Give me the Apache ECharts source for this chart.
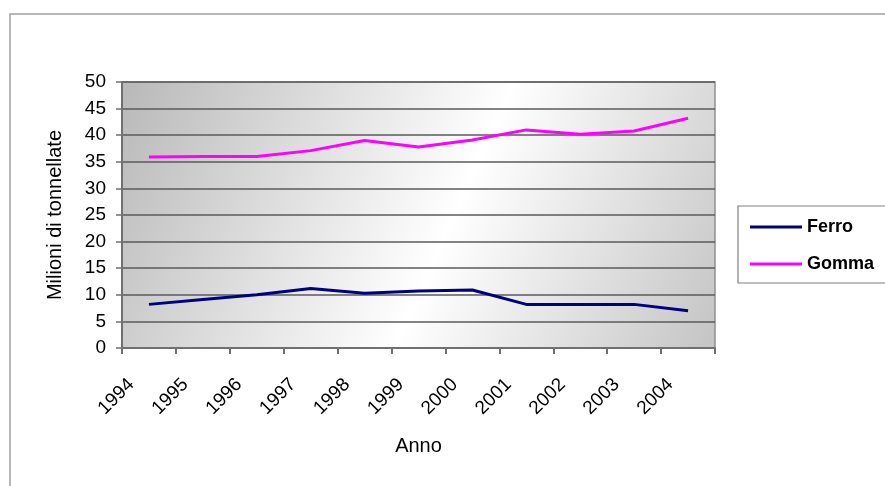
<!DOCTYPE html>
<html>
<head>
<meta charset="utf-8">
<script src="https://cdn.jsdelivr.net/npm/echarts@6/dist/echarts.min.js"></script>
<style>
html, body { margin: 0; padding: 0; background: #fff; }
#chart { width: 885px; height: 486px; }
</style>
</head>
<body>
<div id="chart"></div>
<script>
// anni e valori
var anni = ['1994', '1995', '1996', '1997', '1998', '1999', '2000', '2001', '2002', '2003', '2004'];
var ferro = [8.2, 9.1, 10, 11.2, 10.3, 10.7, 10.9, 8.2, 8.2, 8.2, 7.0];
var gomma = [35.9, 36, 36, 37.1, 39, 37.8, 39.1, 41, 40.2, 40.8, 43.2];
var yTicks = [0, 5, 10, 15, 20, 25, 30, 35, 40, 45, 50];

var chart = echarts.init(document.getElementById('chart'));
var font = 'Liberation Sans, Arial, sans-serif';

var option = {
  animation: false,
  textStyle: { fontFamily: font },
  graphic: [
    // cornice esterna
    { type: 'rect', shape: { x: 10, y: 14, width: 900, height: 500 },
      style: { fill: 'none', stroke: '#a0a0a0', lineWidth: 1.5 }, z: -10 },
    // riquadro legenda
    { type: 'rect', shape: { x: 738, y: 206, width: 200, height: 77 },
      style: { fill: '#fff', stroke: '#808080', lineWidth: 1.2 }, z: 0 }
  ],
  grid: {
    left: 122, right: 170, top: 82, bottom: 138,
    show: true,
    borderColor: '#909090',
    borderWidth: 1.5,
    backgroundColor: new echarts.graphic.LinearGradient(0, 0, 1, 1, [
      { offset: 0, color: '#b8b8b8' },
      { offset: 0.55, color: '#ffffff' },
      { offset: 1, color: '#c4c4c4' }
    ])
  },
  legend: {
    orient: 'vertical',
    left: 745, top: 213,
    itemWidth: 52, itemHeight: 14,
    itemGap: 19,
    z: 5,
    textStyle: { fontSize: 18, fontWeight: 'bold', color: '#000', fontFamily: font },
    data: [
      { name: 'Ferro', icon: 'path://M0,6 L52,6 L52,9 L0,9 Z' },
      { name: 'Gomma', icon: 'path://M0,6 L52,6 L52,9 L0,9 Z' }
    ]
  },
  xAxis: {
    type: 'category',
    data: anni,
    boundaryGap: true,
    name: 'Anno',
    nameLocation: 'middle',
    nameGap: 88,
    nameTextStyle: { fontSize: 20, color: '#000' },
    axisLine: { lineStyle: { color: '#707070', width: 2 } },
    axisTick: { show: true, length: 6, lineStyle: { color: '#707070', width: 2 } },
    axisLabel: {
      rotate: 45, fontSize: 19, color: '#000', margin: 16,
      padding: [0, 25, 0, 0]
    }
  },
  yAxis: {
    type: 'value',
    min: 0, max: 50, interval: 5,
    name: 'Milioni di tonnellate',
    nameLocation: 'middle',
    nameGap: 57,
    nameTextStyle: { fontSize: 20, color: '#000' },
    axisLine: { show: true, lineStyle: { color: '#707070', width: 2 } },
    axisTick: { show: true, length: 6, lineStyle: { color: '#707070', width: 1.5 } },
    axisLabel: {
      fontSize: 19, color: '#000', margin: 16,
      formatter: function (v) { return yTicks.indexOf(v) >= 0 ? String(v) : ''; }
    },
    splitLine: { show: true, lineStyle: { color: '#5a5a5a', width: 1.5 } }
  },
  series: [
    {
      name: 'Ferro', type: 'line', data: ferro,
      symbol: 'none', color: '#000080',
      lineStyle: { color: '#000080', width: 3 }
    },
    {
      name: 'Gomma', type: 'line', data: gomma,
      symbol: 'none', color: '#ff00ff',
      lineStyle: { color: '#ff00ff', width: 3 }
    }
  ]
};

chart.setOption(option);
</script>
</body>
</html>
